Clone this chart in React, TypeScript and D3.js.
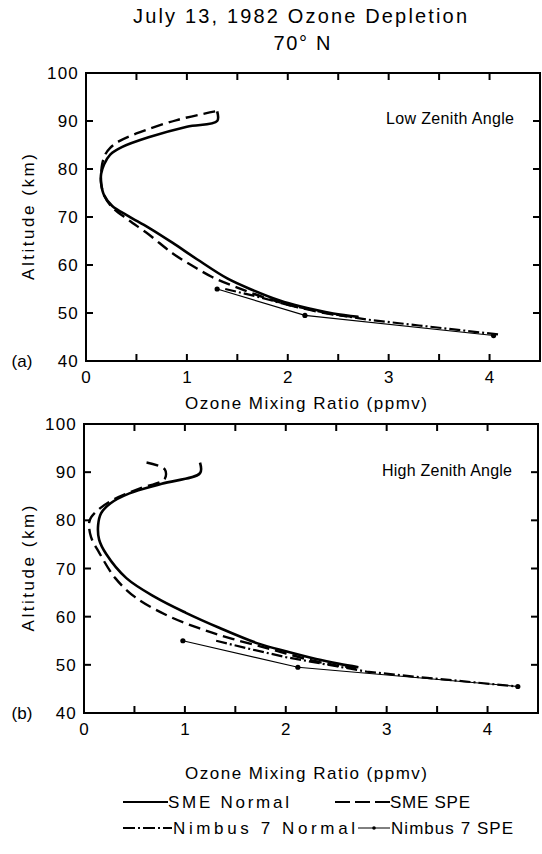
import React from 'react';
import * as d3 from 'd3';

type P = [number, number]; // [ozone ppmv, altitude km]

const xTickValues = [0, 0.5, 1, 1.5, 2, 2.5, 3, 3.5, 4, 4.5];
const xTickLabels = [0, 1, 2, 3, 4];
const yTickValues = [40, 50, 60, 70, 80, 90, 100];

// (a) Low zenith angle
const lowSmeNormal: P[] = [
  [1.3, 92], [1.3, 90], [1.0, 88.8], [0.62, 86.6], [0.36, 84.6], [0.24, 83], [0.18, 81],
  [0.15, 79], [0.15, 77], [0.18, 74.5], [0.26, 72.3], [0.42, 70.2], [0.62, 67.8],
  [0.86, 64.6], [1.1, 61.2], [1.4, 57.2], [1.65, 54.8], [1.92, 52.6], [2.12, 51.4],
  [2.45, 49.9], [2.7, 49.2],
];
const lowSmeSpe: P[] = [
  [1.28, 92], [0.9, 90.2], [0.5, 87.4], [0.33, 85.8], [0.24, 84.4], [0.19, 83], [0.16, 81],
  [0.15, 79], [0.15, 77], [0.18, 74.5], [0.26, 72], [0.42, 69.4], [0.62, 66.4],
  [0.86, 62.4], [1.05, 59.9], [1.25, 57.5], [1.5, 55.3], [1.8, 53], [2.1, 51.2],
  [2.45, 49.7], [2.7, 49.1],
];
const lowNimbusNormal: P[] = [
  [1.38, 55], [1.7, 53.4], [2.0, 51.7], [2.4, 49.9], [2.8, 48.6], [3.3, 47.4], [4.1, 45.5],
];
const lowNimbusSpe: P[] = [[1.3, 55], [2.17, 49.5], [4.04, 45.3]];

// (b) High zenith angle
const highSmeNormal: P[] = [
  [1.15, 92], [1.15, 89.8], [0.77, 87.6], [0.45, 85.6], [0.26, 83.5], [0.17, 81.5],
  [0.14, 79], [0.15, 76], [0.22, 73], [0.42, 68], [0.71, 64], [1.01, 60.8],
  [1.34, 57.7], [1.73, 54.4], [2.0, 52.8], [2.3, 51.2], [2.53, 50.2], [2.72, 49.5],
];
const highSmeSpe: P[] = [
  [0.62, 92], [0.8, 90.6], [0.8, 88.6], [0.55, 86.6], [0.3, 84.4], [0.14, 82.2],
  [0.07, 80.6], [0.05, 79.4], [0.07, 76.5], [0.15, 73.3], [0.31, 68], [0.51, 64],
  [0.81, 60.4], [1.14, 57.6], [1.47, 55.4], [1.86, 53.2], [2.26, 50.9], [2.5, 49.9],
  [2.7, 49.3],
];
const highNimbusNormal: P[] = [
  [1.31, 55], [1.6, 53.5], [2.0, 51.6], [2.5, 49.7], [2.8, 48.6], [3.3, 47.5], [4.3, 45.5],
];
const highNimbusSpe: P[] = [[0.98, 55], [2.12, 49.5], [4.3, 45.5]];

const legendLabels = ['SME Normal', 'SME SPE', 'Nimbus 7 Normal', 'Nimbus 7 SPE'];

const FONT = 'Liberation Sans, Arial, Helvetica, sans-serif';
const DASH = '12,6';
const DASHDOT = '11,3,2,3';

interface PanelProps {
  top: number; bottom: number; left: number; right: number;
  smeNormal: P[]; smeSpe: P[]; nimbusNormal: P[]; nimbusSpe: P[];
  label: string; caption: string; captionY: number; captionLen: number; titleY: number;
}

function Panel(p: PanelProps) {
  const x = d3.scaleLinear().domain([0, 4.5]).range([p.left, p.right]);
  const y = d3.scaleLinear().domain([40, 100]).range([p.bottom, p.top]);
  const smooth = d3.line<P>().x(d => x(d[0])).y(d => y(d[1])).curve(d3.curveCatmullRom.alpha(0.5));
  const straight = d3.line<P>().x(d => x(d[0])).y(d => y(d[1]));
  const tick = 7;
  return (
    <g>
      <rect x={p.left} y={p.top} width={p.right - p.left} height={p.bottom - p.top}
        fill="none" stroke="#000" strokeWidth={2} />
      {xTickValues.slice(1, -1).map(v => (
        <g key={'xt' + v}>
          <line x1={x(v)} x2={x(v)} y1={p.bottom} y2={p.bottom - tick} stroke="#000" strokeWidth={2} />
          <line x1={x(v)} x2={x(v)} y1={p.top} y2={p.top + tick} stroke="#000" strokeWidth={2} />
        </g>
      ))}
      {yTickValues.slice(1, -1).map(v => (
        <g key={'yt' + v}>
          <line x1={p.left} x2={p.left + tick} y1={y(v)} y2={y(v)} stroke="#000" strokeWidth={2} />
          <line x1={p.right} x2={p.right - tick} y1={y(v)} y2={y(v)} stroke="#000" strokeWidth={2} />
        </g>
      ))}
      {yTickValues.map(v => (
        <text key={'yl' + v} x={p.left - 7} y={y(v)} dy="0.36em" textAnchor="end"
          fontSize={17} letterSpacing={1.2} fontFamily={FONT}>{v}</text>
      ))}
      {xTickLabels.map(v => (
        <text key={'xl' + v} x={x(v)} y={p.bottom + 22} textAnchor="middle"
          fontSize={17} fontFamily={FONT}>{v}</text>
      ))}
      <text x={22} y={p.bottom} dy="0.36em" textAnchor="middle" fontSize={17} fontFamily={FONT}>{p.label}</text>
      <text transform={`translate(${34},${(p.top + p.bottom) / 2}) rotate(-90)`} textAnchor="middle"
        fontSize={17} fontFamily={FONT} textLength={126} lengthAdjust="spacing">Altitude (km)</text>
      <text x={p.right - 26} y={p.captionY} textAnchor="end" fontSize={16} fontFamily={FONT}
        textLength={p.captionLen} lengthAdjust="spacing">{p.caption}</text>
      <text x={306} y={p.titleY} textAnchor="middle" fontSize={17} fontFamily={FONT}
        textLength={242} lengthAdjust="spacing">Ozone Mixing Ratio (ppmv)</text>

      <path d={smooth(p.smeNormal) || ''} fill="none" stroke="#000" strokeWidth={2.6} />
      <path d={smooth(p.smeSpe) || ''} fill="none" stroke="#000" strokeWidth={2.4} strokeDasharray={DASH} />
      <path d={straight(p.nimbusNormal) || ''} fill="none" stroke="#000" strokeWidth={2.2} strokeDasharray={DASHDOT} />
      <path d={straight(p.nimbusSpe) || ''} fill="none" stroke="#000" strokeWidth={1.1} />
      {p.nimbusSpe.map((d, i) => (
        <circle key={'c' + i} cx={x(d[0])} cy={y(d[1])} r={2.6} fill="#000" />
      ))}
    </g>
  );
}

export default function App() {
  return (
    <svg width={542} height={854} style={{ position: 'absolute', left: 0, top: 0, background: '#fff' }}>
      <rect width={542} height={854} fill="#fff" />
      <text x={300} y={23} textAnchor="middle" fontSize={20} fontFamily={FONT}
        textLength={334} lengthAdjust="spacing">July 13, 1982 Ozone Depletion</text>
      <text x={302} y={50} textAnchor="middle" fontSize={20} fontFamily={FONT}
        textLength={57} lengthAdjust="spacing">70° N</text>
      <Panel top={73} bottom={361} left={86} right={540}
        smeNormal={lowSmeNormal} smeSpe={lowSmeSpe} nimbusNormal={lowNimbusNormal} nimbusSpe={lowNimbusSpe}
        label="(a)" caption="Low Zenith Angle" captionY={124} captionLen={128} titleY={409} />
      <Panel top={424} bottom={713} left={84} right={538}
        smeNormal={highSmeNormal} smeSpe={highSmeSpe} nimbusNormal={highNimbusNormal} nimbusSpe={highNimbusSpe}
        label="(b)" caption="High Zenith Angle" captionY={476} captionLen={130} titleY={779} />
      <g fontFamily={FONT} fontSize={17}>
        <line x1={123} x2={168} y1={802} y2={802} stroke="#000" strokeWidth={2} />
        <text x={168} y={808} textLength={121} lengthAdjust="spacing">{legendLabels[0]}</text>
        <line x1={335} x2={390} y1={802} y2={802} stroke="#000" strokeWidth={2.2} strokeDasharray="15,5" />
        <text x={390} y={808} textLength={80} lengthAdjust="spacing">{legendLabels[1]}</text>
        <line x1={123} x2={172} y1={828} y2={828} stroke="#000" strokeWidth={2} strokeDasharray="12,3,2,3" />
        <text x={173} y={834} textLength={182} lengthAdjust="spacing">{legendLabels[2]}</text>
        <line x1={358} x2={390} y1={828} y2={828} stroke="#000" strokeWidth={1} />
        <circle cx={374} cy={828} r={1.8} fill="#000" />
        <text x={391} y={834} textLength={122} lengthAdjust="spacing">{legendLabels[3]}</text>
      </g>
    </svg>
  );
}
